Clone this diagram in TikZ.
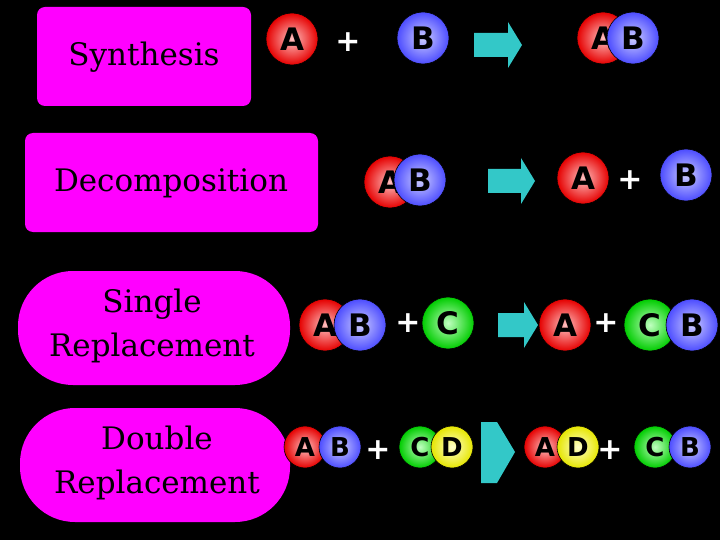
\documentclass[tikz,border=0pt]{standalone}
\usepackage{fontspec}
\setmainfont{DejaVu Serif}
\setsansfont{DejaVu Sans}
\definecolor{mag}{RGB}{255,0,255}
\definecolor{tealA}{RGB}{51,200,200}
\tikzset{
 box/.style={fill=mag,rounded corners=8pt,inner sep=0pt},
 lbl/.style={font=\fontsize{31}{44}\selectfont,align=center},
 ball/.style={circle,minimum size=52pt,inner sep=0pt,draw=black,line width=0.6pt,font=\sffamily\bfseries\fontsize{31}{31}\selectfont},
 sm/.style={minimum size=42pt,font=\sffamily\bfseries\fontsize{26}{26}\selectfont},
 red/.style={ball,inner color=red!25,outer color=red!90!black},
 blu/.style={ball,inner color=blue!20!white,outer color=blue!70!white},
 grn/.style={ball,inner color=green!25,outer color=green!80!black},
 yel/.style={ball,inner color=yellow!20,outer color=yellow!90!black},
 plus/.style={text=white,font=\sffamily\bfseries\fontsize{30}{30}\selectfont},
 arrowfill/.style={fill=tealA},
}
\begin{document}
\begin{tikzpicture}[x=1pt,y=-1pt]
\fill[black] (0,0) rectangle (720,540);
\useasboundingbox (0,0) rectangle (720,540);
% boxes
\fill[box] (37,7) rectangle (251,106);
\node[lbl] (t1) at (144,57) {Synthesis};
\fill[box] (25,133) rectangle (318,232);
\node[lbl] (t2) at (171,183) {Decomposition};
\fill[mag,rounded corners=55pt] (18,271) rectangle (290,385);
\node[lbl] (t3) at (152,326) {Single\\Replacement};
\fill[mag,rounded corners=55pt] (20,408) rectangle (290,522);
\node[lbl] (t4) at (157,463) {Double\\Replacement};
% arrows
\fill[arrowfill] (474,33) -- (508,33) -- (508,22) -- (522,45) -- (508,68) -- (508,57) -- (474,57) -- cycle;
\fill[arrowfill] (488,169) -- (521,169) -- (521,158) -- (535,181) -- (521,204) -- (521,193) -- (488,193) -- cycle;
\fill[arrowfill] (498,313) -- (524,313) -- (524,302) -- (538,325) -- (524,348) -- (524,337) -- (498,337) -- cycle;
\fill[arrowfill] (481,422) -- (497,422) -- (515,452) -- (497,483) -- (481,483) -- cycle;
% row 1
\node[red] (a1) at (292,39) {A};
\node[plus] (p1) at (348,42) {+};
\node[blu] (b1) at (423,38) {B};
\node[red] (a1r) at (603,38) {A};
\node[blu] (b1r) at (633,38) {B};
% row 2
\node[red] (a2) at (390,182) {A};
\node[blu] (b2) at (420,180) {B};
\node[red] (a2r) at (583,178) {A};
\node[plus] (p2) at (630,180) {+};
\node[blu] (b2r) at (686,175) {B};
% row 3
\node[red] (a3) at (325,325) {A};
\node[blu] (b3) at (360,325) {B};
\node[plus] (p3) at (408,323) {+};
\node[grn] (c3) at (448,323) {C};
\node[red] (a3r) at (565,325) {A};
\node[plus] (p3r) at (606,323) {+};
\node[grn] (c3r) at (650,325) {C};
\node[blu] (b3r) at (692,325) {B};
% row 4
\node[red,sm] (a4) at (305,447) {A};
\node[blu,sm] (b4) at (340,447) {B};
\node[plus] (p4) at (378,450) {+};
\node[grn,sm] (c4) at (420,447) {C};
\node[yel,sm] (d4) at (452,447) {D};
\node[red,sm] (a4r) at (545,447) {A};
\node[yel,sm] (d4r) at (578,447) {D};
\node[plus] (p4r) at (610,450) {+};
\node[grn,sm] (c4r) at (655,447) {C};
\node[blu,sm] (b4r) at (690,447) {B};
\end{tikzpicture}
\end{document}
